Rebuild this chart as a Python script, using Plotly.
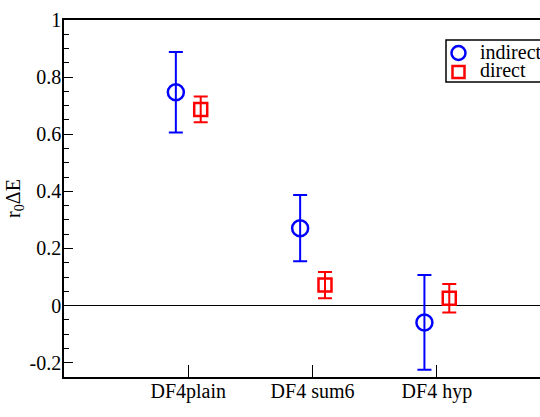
import plotly.graph_objects as go

categories = ["DF4plain", "DF4 sum6", "DF4 hyp"]
indirect = [0.747, 0.271, -0.059]
indirect_err = [0.141, 0.116, 0.166]
direct = [0.687, 0.072, 0.026]
direct_err = [0.045, 0.046, 0.050]
y_ticks = [-0.2, 0, 0.2, 0.4, 0.6, 0.8, 1]
y_tick_text = ["-0.2", "0", "0.2", "0.4", "0.6", "0.8", "1"]
series_names = ["indirect", "direct"]

pos = [i + 1 for i in range(len(categories))]
off = 0.1
FONT = "Liberation Serif"
BLUE, RED = "#0000ff", "#ff0000"

W, H = 540, 417
ML, MR, MT, MB = 64, 0, 20, 40
PW, PH = W - ML - MR, H - MT - MB

def px(x):
    return (x - ML) / PW

def py(y):
    return (H - MB - y) / PH

fig = go.Figure()
fig.add_trace(go.Scatter(
    x=[p - off for p in pos], y=indirect, mode="markers", name=series_names[0],
    marker=dict(symbol="circle-open", size=16, color=BLUE, line=dict(width=2.5, color=BLUE)),
    error_y=dict(type="data", array=indirect_err, visible=True, color=BLUE, thickness=2, width=7),
))
fig.add_trace(go.Scatter(
    x=[p + off for p in pos], y=direct, mode="markers", name=series_names[1],
    marker=dict(symbol="square-open", size=13, color=RED, line=dict(width=2.5, color=RED)),
    error_y=dict(type="data", array=direct_err, visible=True, color=RED, thickness=2, width=7),
))

# hand-built legend (box, glyphs, labels)
shapes = [
    dict(type="rect", xref="paper", yref="paper", x0=px(446), x1=px(560), y0=py(82), y1=py(40),
         line=dict(color="black", width=1.5), fillcolor="white", layer="above"),
    dict(type="circle", xref="paper", yref="paper", x0=px(451.5), x1=px(465.5), y0=py(60), y1=py(46),
         line=dict(color=BLUE, width=2.5), layer="above"),
    dict(type="rect", xref="paper", yref="paper", x0=px(452.5), x1=px(464.5), y0=py(78), y1=py(66),
         line=dict(color=RED, width=2.5), layer="above"),
]
annotations = [
    dict(text=series_names[0], xref="paper", yref="paper", x=px(478), y=py(52), xanchor="left",
         yanchor="middle", showarrow=False, font=dict(family=FONT, size=20, color="black")),
    dict(text=series_names[1], xref="paper", yref="paper", x=px(478), y=py(70), xanchor="left",
         yanchor="middle", showarrow=False, font=dict(family=FONT, size=20, color="black")),
]

fig.update_layout(
    width=W, height=H,
    margin=dict(l=ML, r=MR, t=MT, b=MB, autoexpand=False),
    plot_bgcolor="white", paper_bgcolor="white",
    font=dict(family=FONT, size=20, color="black"),
    showlegend=False,
    shapes=shapes, annotations=annotations,
    xaxis=dict(range=[0, 3.83], tickmode="array", tickvals=pos, ticktext=categories,
               ticks="inside", ticklen=12, tickwidth=1, tickcolor="black",
               showline=True, linecolor="black", linewidth=1.5, mirror=True,
               showgrid=False, zeroline=False, ticklabelstandoff=-5,
               tickfont=dict(family=FONT, size=20)),
    yaxis=dict(range=[-0.25, 1], tickmode="array", tickvals=y_ticks, ticktext=y_tick_text,
               ticks="inside", ticklen=9, tickwidth=1, tickcolor="black",
               minor=dict(dtick=0.05, ticks="inside", ticklen=5, tickcolor="black", tickwidth=1, showgrid=False),
               showline=True, linecolor="black", linewidth=1.5, mirror=False,
               showgrid=False, zeroline=True, zerolinecolor="black", zerolinewidth=1,
               ticklabelstandoff=-3,
               tickfont=dict(family=FONT, size=20),
               title=dict(text="r<sub>0</sub>ΔE", font=dict(family=FONT, size=20), standoff=4)),
)

fig.write_html("out.html", config={"displayModeBar": False},
               post_script="document.body.style.margin='0';document.body.style.overflow='hidden';")
